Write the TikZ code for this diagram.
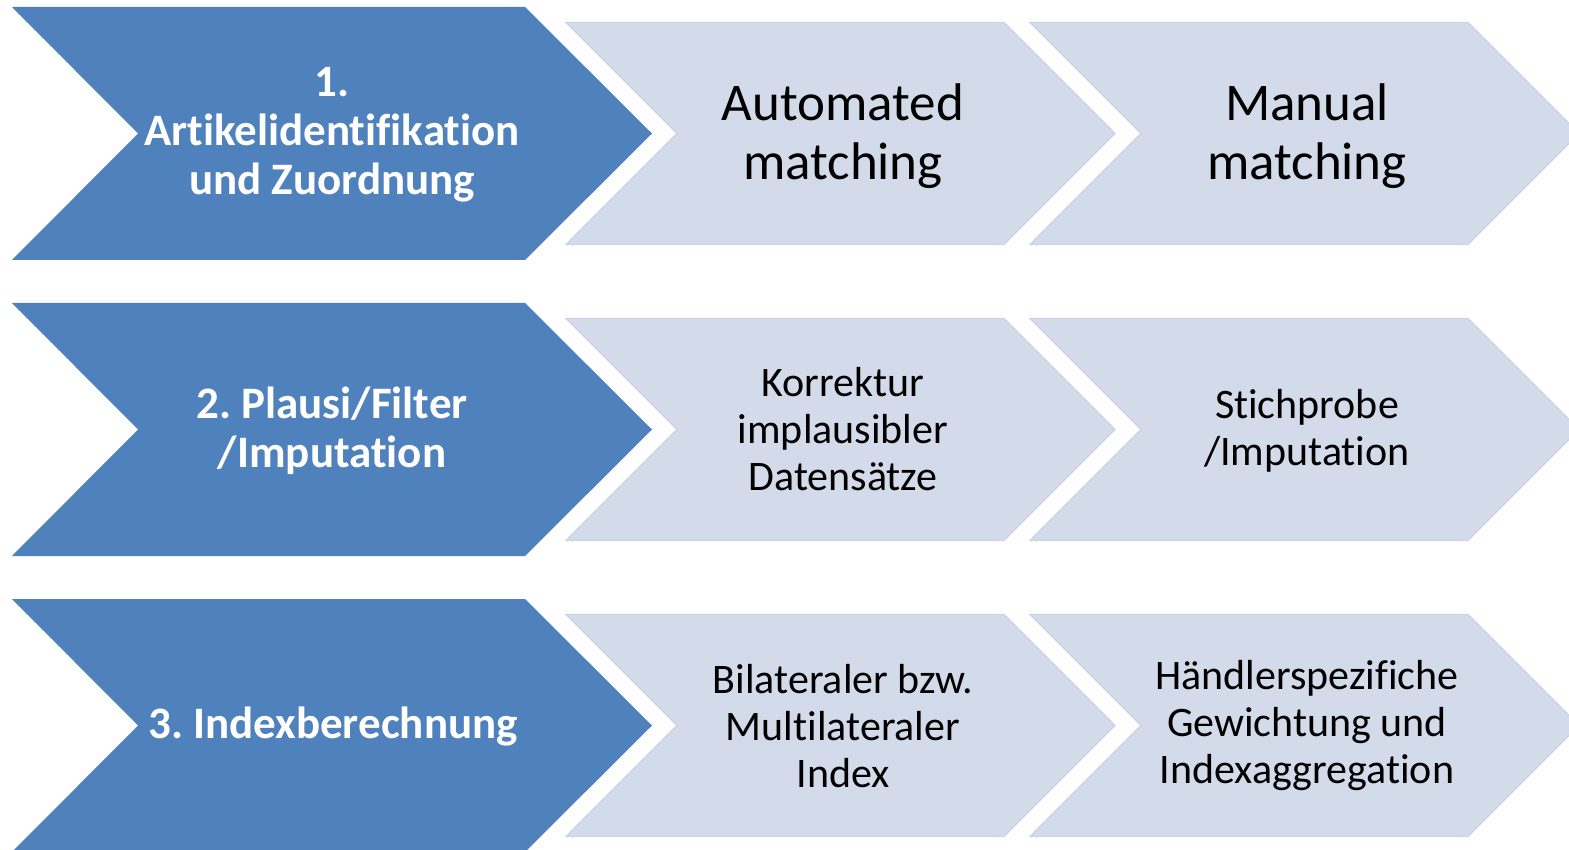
\documentclass[tikz,border=0pt]{standalone}
\usepackage{fontspec}
\setmainfont{Carlito}[Ligatures=NoCommon]
\frenchspacing
\definecolor{stageblue}{HTML}{4F81BD}
\definecolor{steplight}{HTML}{D3DBEA}
\definecolor{stepedge}{HTML}{CBD4E6}
\begin{document}
\begin{tikzpicture}[x=1pt,y=-1pt,
  stage/.style={fill=stageblue},
  stepshape/.style={fill=steplight,draw=stepedge,line width=1.2pt},
  stagetext/.style={text=white,align=center,font=\fontsize{45}{49}\selectfont\bfseries,inner sep=0pt},
  steptext/.style={text=black,align=center,font=\fontsize{42}{47}\selectfont,inner sep=0pt},
  bigsteptext/.style={text=black,align=center,font=\fontsize{53}{59}\selectfont,inner sep=0pt}]
\useasboundingbox (0,0) rectangle (1569,850);
\clip (0,0) rectangle (1569,850);

% chevrons of the three rows
\foreach \c in {133.5,429.5,725.5}{
  % stage chevron
  \path[stage] (12,{\c-126.5}) -- (525,{\c-126.5}) -- (652,\c)
    -- (525,{\c+126.5}) -- (12,{\c+126.5}) -- (138,\c) -- cycle;
  % first step chevron
  \path[stepshape] (566,{\c-111}) -- (1004,{\c-111}) -- (1115,\c)
    -- (1004,{\c+111}) -- (566,{\c+111}) -- (677,\c) -- cycle;
  % second step chevron
  \path[stepshape] (1030,{\c-111}) -- (1468,{\c-111}) -- (1579,\c)
    -- (1468,{\c+111}) -- (1030,{\c+111}) -- (1141,\c) -- cycle;
}

% row 1
\node[stagetext] (s1) at (332,135) {1.\\Artikelidentifikation\\und Zuordnung};
\node[bigsteptext] (a1) at (843,136) {Automated\\matching};
\node[bigsteptext] (b1) at (1307,136) {Manual\\matching};

% row 2
\node[stagetext] (s2) at (332,431) {2. Plausi/Filter\\/Imputation};
\node[steptext] (a2) at (843,429) {Korrektur\\implausibler\\Datensätze};
\node[steptext] (b2) at (1307,431) {Stichprobe\\/Imputation};

% row 3
\node[stagetext] (s3) at (333,727) {3. Indexberechnung};
\node[steptext] (a3) at (843,726) {Bilateraler bzw.\\Multilateraler\\Index};
\node[steptext] (b3) at (1307,726) {Händlerspezifiche\\Gewichtung und\\Indexaggregation};
\end{tikzpicture}
\end{document}
